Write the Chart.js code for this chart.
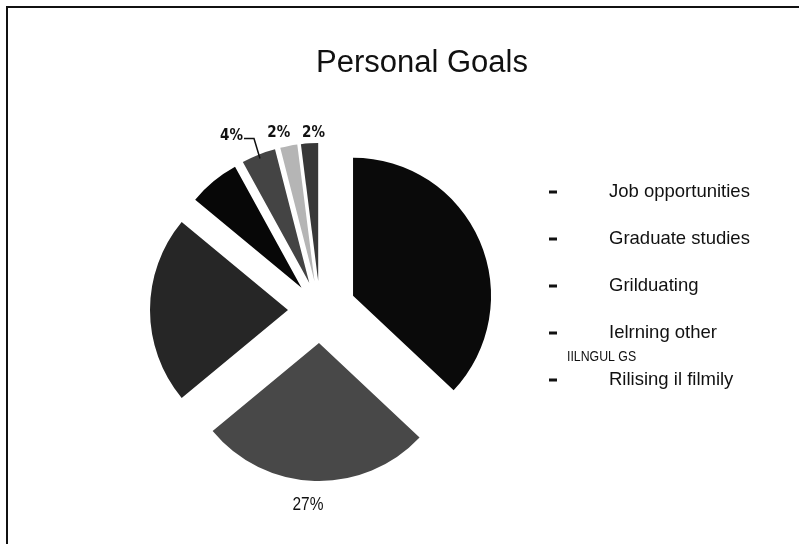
<!DOCTYPE html>
<html>
<head>
<meta charset="utf-8">
<title>Personal Goals</title>
<script src="https://cdn.jsdelivr.net/npm/chart.js@4/dist/chart.umd.min.js"></script>
<style>
    html, body { margin: 0; padding: 0; background: #fff; }
    #wrap { position: relative; width: 799px; height: 544px; overflow: hidden; }
    #frame {
        position: absolute; left: 6px; top: 6px; right: 0; bottom: 0;
        border-left: 2px solid #111; border-top: 2px solid #111;
        pointer-events: none;
    }
    canvas { position: absolute; left: 0; top: 0; }
</style>
</head>
<body>
<div id="wrap">
    <canvas id="goalsChart" width="799" height="544"></canvas>
    <div id="frame"></div>
</div>
<script>
'use strict';

// share of answers per goal, clockwise from 12 o'clock
const goalLabels = ['Job opportunities', 'Graduate studies', 'Grilduating', ['Ielrning other', 'IILNGUL GS'], 'Rilising il filmily', 'Traveling', 'Other'];
const goalShares = [37, 27, 22, 6, 4, 2, 2];
// only these slices carry a percentage
const labelledSlices = [1, 4, 5, 6];
// the legend lists the first five goals
const legendCount = 5;

const sliceColors = ['#0a0a0a', '#484848', '#262626', '#070707', '#444444', '#b5b5b5', '#383838'];
// how far each slice is pulled out of the pie, in pixels
const sliceShift = [36, 33, 32, 29, 29, 29, 29];
const pieRadius = 138;

// Chart.js moves an arc by offset / 4, and trims and widens thin arcs while
// doing so; pass 4x the shift and let the draw step treat every arc as a
// plain wedge so all slices keep the same radius and full angle
const plainWedges = {
    id: 'plainWedges',
    beforeDatasetsDraw(chart) {
        chart.getDatasetMeta(0).data.forEach(arc => {
            arc.circumference = Math.PI / 2;
        });
    }
};

const narrowText = (ctx, text, x, y, squeeze) => {
    ctx.save();
    ctx.translate(x, y);
    ctx.scale(squeeze, 1);
    ctx.fillText(text, 0, 0);
    ctx.restore();
};

const decorations = {
    id: 'decorations',
    afterDraw(chart) {
        const ctx = chart.ctx;
        const meta = chart.getDatasetMeta(0);
        ctx.save();
        ctx.fillStyle = '#111';

        // title
        ctx.font = '31px "Liberation Sans", Arial, sans-serif';
        ctx.textAlign = 'center';
        ctx.textBaseline = 'alphabetic';
        ctx.fillText('Personal Goals', 422, 72);

        // percentage labels
        const nudges = { 1: [-6, 2], 5: [-7, 3], 6: [5, 6] };
        labelledSlices.forEach(i => {
            const arc = meta.data[i];
            const mid = (arc.startAngle + arc.endAngle) / 2;
            const dx = Math.cos(mid), dy = Math.sin(mid);
            const base = sliceShift[i] + pieRadius;
            const text = goalShares[i] + '%';
            const [nx, ny] = nudges[i] || [0, 0];
            if (i === 1) {
                const x = arc.x + dx * (base + 22) + nx;
                const y = arc.y + dy * (base + 22) + ny;
                ctx.font = '18px "Liberation Sans", Arial, sans-serif';
                ctx.textAlign = 'center';
                ctx.textBaseline = 'middle';
                narrowText(ctx, text, x, y, 0.86);
            } else if (i === 4) {
                // leader line bent towards the label
                const sx = arc.x + dx * (base - 4);
                const sy = arc.y + dy * (base - 4);
                const ex = sx - 6, ey = sy - 20;
                ctx.strokeStyle = '#111';
                ctx.lineWidth = 1.5;
                ctx.beginPath();
                ctx.moveTo(sx, sy);
                ctx.lineTo(ex, ey);
                ctx.lineTo(ex - 10, ey);
                ctx.stroke();
                ctx.font = 'bold 15px "DejaVu Sans Condensed", "DejaVu Sans", sans-serif';
                ctx.textAlign = 'right';
                ctx.textBaseline = 'middle';
                ctx.fillText(text, ex - 11, ey - 2);
            } else {
                const x = arc.x + dx * (base + 16) + nx;
                const y = arc.y + dy * (base + 16) + ny;
                ctx.font = 'bold 15px "DejaVu Sans Condensed", "DejaVu Sans", sans-serif';
                ctx.textAlign = 'center';
                ctx.textBaseline = 'middle';
                ctx.fillText(text, x, y);
            }
        });

        // legend: dash marker and label per goal
        const labels = chart.data.labels.slice(0, legendCount);
        labels.forEach((label, i) => {
            const y = 192 + i * 47;
            ctx.fillRect(549, y - 1.5, 8, 3);
            const lines = Array.isArray(label) ? label : [label];
            ctx.textAlign = 'left';
            ctx.textBaseline = 'middle';
            ctx.font = '18.5px "Liberation Sans", Arial, sans-serif';
            ctx.fillText(lines[0], 609, y);
            if (lines[1]) {
                ctx.font = '14px "Liberation Sans", Arial, sans-serif';
                narrowText(ctx, lines[1], 567, y + 24, 0.88);
            }
        });
        ctx.restore();
    }
};

const ctx = document.getElementById('goalsChart').getContext('2d');
new Chart(ctx, {
    type: 'pie',
    data: {
        labels: goalLabels,
        datasets: [{
            data: goalShares,
            backgroundColor: sliceColors,
            borderWidth: 0,
            offset: sliceShift.map(s => s * 4),
            hoverOffset: 0,
            radius: pieRadius
        }]
    },
    options: {
        responsive: false,
        animation: false,
        layout: {
            padding: { left: 140, right: 299, top: 130, bottom: 54 }
        },
        plugins: {
            legend: { display: false },
            title: { display: false },
            tooltip: { enabled: false }
        }
    },
    plugins: [plainWedges, decorations]
});
</script>
</body>
</html>
